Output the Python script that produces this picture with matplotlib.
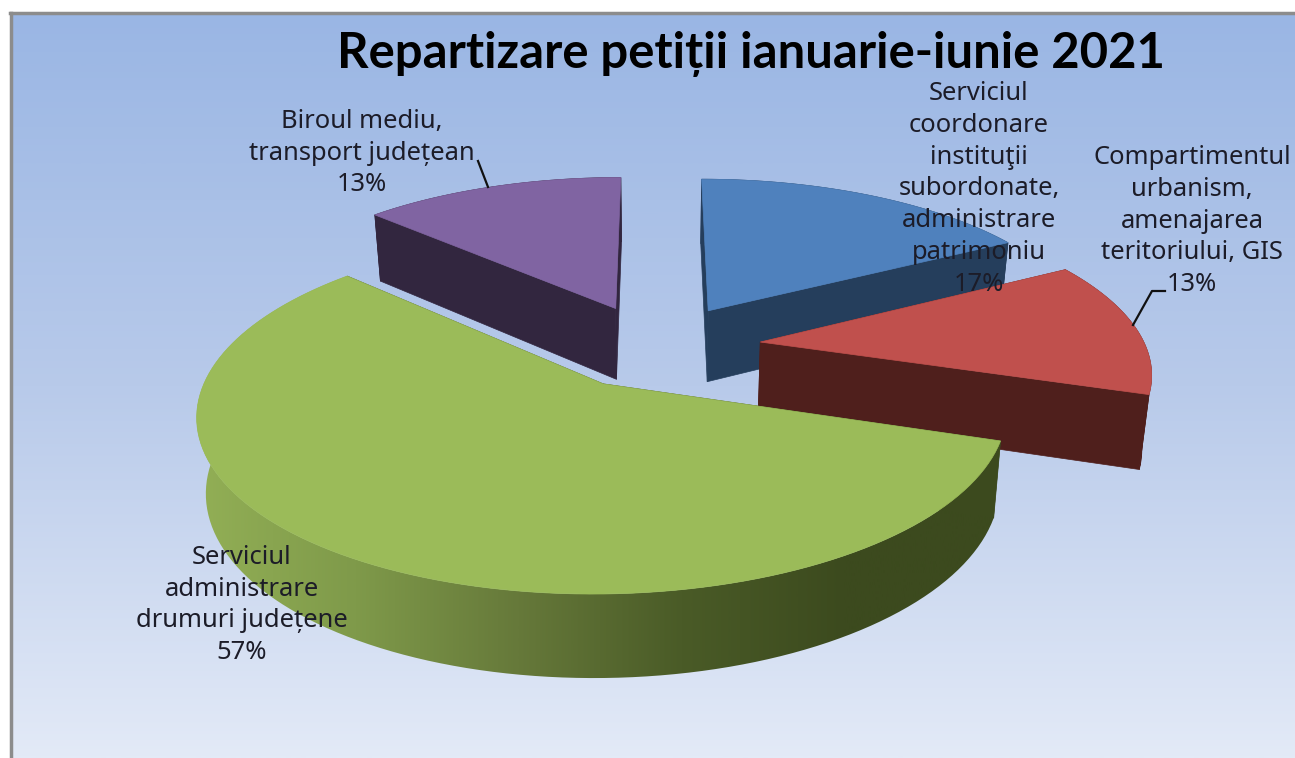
import numpy as np
import matplotlib
matplotlib.use('Agg')
import matplotlib.pyplot as plt
from matplotlib.colors import LinearSegmentedColormap
from matplotlib.patches import Polygon

title = "Repartizare petiții ianuarie-iunie 2021"
labels = ["Serviciul\ncoordonare\ninstituţii\nsubordonate,\nadministrare\npatrimoniu",
          "Compartimentul\nurbanism,\namenajarea\nteritoriului, GIS",
          "Serviciul\nadministrare\ndrumuri județene",
          "Biroul mediu,\ntransport județean"]
values = [17, 13, 57, 13]
top_colors = ['#4f81bd', '#c0504d', '#9bbb59', '#8064a2']
side_colors = ['#253e5c', '#4f1f1c', '#3c4a1e', '#32263f']

W, H = 1295, 758
first_angle = 90.0
explode = 0.26
depth = 72.6
cx, cy = 658.0, 346.0
rx, ry = 385.0, 163.0
persp = 0.16
nudge = [1, 3, -2, -4]  # small sideways shift per slice, pixels


def project(u, v, lower=False):
    # disc coordinates to picture pixels, with a simple perspective
    w = 1 + persp*v
    x = cx + rx*u/w
    y = cy - ry*v/w
    if lower:
        x = cx + (x - cx)*0.98
        y = y + depth/w**0.67
    return x, y


def slice_points(start, end, offset):
    t = np.radians(np.linspace(start, end, 120))
    return offset[0] + np.cos(t), offset[1] + np.sin(t)


def gradient(ax, extent, colors, clip, zorder, horizontal=True):
    cmap = LinearSegmentedColormap.from_list('g', colors)
    g = np.linspace(0, 1, 512)
    g = g.reshape(1, -1) if horizontal else g.reshape(-1, 1)
    im = ax.imshow(g, cmap=cmap, extent=extent, aspect='auto', zorder=zorder,
                   interpolation='bilinear')
    if clip is not None:
        im.set_clip_path(clip)
    return im


def draw_slice(ax, start, end, top, side, zorder, shift=0, green_side=False):
    mid = np.radians((start + end)/2)
    off = (explode*np.cos(mid), explode*np.sin(mid))
    u, v = slice_points(start, end, off)
    x, y = project(u, v)
    xl, yl = project(u, v, lower=True)
    ax0, ay0 = project(off[0], off[1])
    bx0, by0 = project(off[0], off[1], lower=True)
    x, xl, ax0, bx0 = x + shift, xl + shift, ax0 + shift, bx0 + shift

    # outer wall
    outer = np.column_stack([np.r_[x, xl[::-1]], np.r_[y, yl[::-1]]])
    if green_side:
        p = Polygon(outer, closed=True, fc='none', ec='none', zorder=zorder)
        ax.add_patch(p)
        gradient(ax, (190, 1010, H, 0),
                 ['#93b056', '#7f9a4a', '#66793a', '#4a5b27', '#3c4a1e', '#3c4a1e'],
                 p, zorder)
    else:
        ax.add_patch(Polygon(outer, closed=True, fc=side, ec=side, lw=0.5, zorder=zorder))

    # the two cut walls
    for i in (0, -1):
        wall = [(ax0, ay0), (x[i], y[i]), (xl[i], yl[i]), (bx0, by0)]
        ax.add_patch(Polygon(wall, closed=True, fc=side, ec=side, lw=0.5, zorder=zorder + 0.1))

    # top face
    face = np.column_stack([np.r_[ax0, x], np.r_[ay0, y]])
    ax.add_patch(Polygon(face, closed=True, fc=top, ec=top, lw=0.5, zorder=zorder + 0.2))


def main():
    fig = plt.figure(figsize=(W/100, H/100), dpi=100, facecolor='white')
    ax = fig.add_axes([0, 0, 1, 1])

    # chart area background
    gradient(ax, (11, W, H, 14), ['#9ab6e4', '#b8caea', '#e3eaf7'], None, 0, horizontal=False)
    ax.plot([11, 11], [H, 13], color='#8c8c8c', lw=2.5, zorder=1)
    ax.plot([10, W], [13, 13], color='#8c8c8c', lw=2.5, zorder=1)

    # slices run clockwise from first_angle
    spans = 360*np.array(values)/sum(values)
    ends = first_angle - np.cumsum(spans)
    starts = ends + spans
    order = [0, 3, 1, 2]
    for n, i in enumerate(order):
        draw_slice(ax, starts[i], ends[i], top_colors[i], side_colors[i], 2 + n,
                   shift=nudge[i], green_side=(i == 2))

    # leader lines
    ax.plot([478, 488], [161, 187], color='#111111', lw=1.6, zorder=9)
    ax.plot([1165, 1152, 1133], [291, 291, 325], color='#111111', lw=1.6, zorder=9)

    txt = dict(ha='center', va='center', fontsize=18.4, family='Noto Sans', color='#1c1c28',
               linespacing=1.36, zorder=10)
    label_pos = [(979, 189), (1192, 221), (242, 605), (362, 153)]
    for lab, val, pos in zip(labels, values, label_pos):
        ax.text(pos[0], pos[1], "{}\n{}%".format(lab, val), **txt)

    ax.text(751, 54, title, ha='center', va='center', fontsize=35.3, fontweight='bold',
            family='Lato', color='black', zorder=10)

    ax.set_xlim(0, W)
    ax.set_ylim(H, 0)
    ax.axis('off')
    fig.savefig('out.png', dpi=100)


if __name__ == '__main__':
    main()
